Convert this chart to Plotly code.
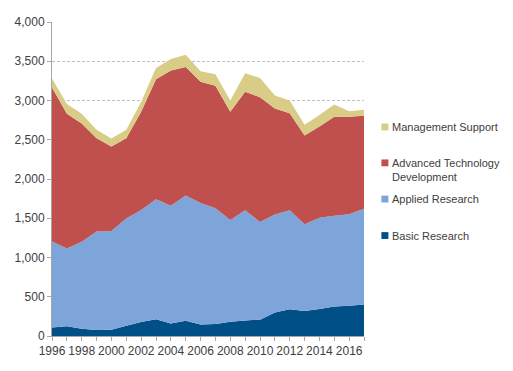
import plotly.graph_objects as go

years = list(range(1996, 2018))
basic = [108, 124, 91, 75, 79, 129, 178, 212, 158, 195, 145, 153, 183, 199, 208, 299, 340, 320, 345, 377, 386, 402]
applied = [1096, 990, 1109, 1255, 1257, 1367, 1426, 1531, 1502, 1594, 1548, 1474, 1295, 1403, 1245, 1249, 1262, 1103, 1161, 1154, 1166, 1220]
advanced = [1963, 1717, 1507, 1190, 1077, 1024, 1252, 1528, 1723, 1639, 1545, 1561, 1378, 1511, 1589, 1350, 1234, 1130, 1163, 1263, 1242, 1184]
management = [112, 124, 124, 108, 103, 108, 124, 144, 145, 154, 136, 145, 145, 233, 245, 165, 165, 137, 146, 154, 70, 75]

series_names = ["Basic Research", "Applied Research", "Advanced Technology<br>Development", "Management Support"]
series_values = [basic, applied, advanced, management]
colors = ["#004F87", "#7DA5D9", "#C0504D", "#D9CC86"]

fig = go.Figure()
for name, vals, col in zip(series_names, series_values, colors):
    fig.add_trace(go.Scatter(
        x=years, y=vals, name=name, mode="none", stackgroup="one",
        fillcolor=col, line=dict(width=0), showlegend=False,
        hoverinfo="x+y+name",
    ))

# page offset from default body margin
OFF = 8
W, H = 513 - OFF, 371 - OFF
# plot area in page pixels
L, R, T, B = 51.5, 363.6, 15, 336

def px_to_paper_x(px):
    return (px - L) / (R - L)

def px_to_paper_y(py):
    return (B - py) / (B - T)

font_family = "Liberation Sans, Arial, sans-serif"
text_color = "#404040"

legend_items = [
    ("Management Support", colors[3], 122.3, 122.3),
    ("Advanced Technology<br>Development", colors[2], 159.0, 166.5),
    ("Applied Research", colors[1], 196.0, 196.0),
    ("Basic Research", colors[0], 233.3, 233.3),
]
shapes = []
annotations = []
for label, col, sq_y, txt_y in legend_items:
    shapes.append(dict(
        type="rect", xref="paper", yref="paper",
        x0=px_to_paper_x(381), x1=px_to_paper_x(388),
        y0=px_to_paper_y(sq_y + 3.5), y1=px_to_paper_y(sq_y - 3.5),
        fillcolor=col, line=dict(width=0),
    ))
    annotations.append(dict(
        text=label, xref="paper", yref="paper",
        x=px_to_paper_x(390), y=px_to_paper_y(txt_y),
        xanchor="left", yanchor="middle", align="left", showarrow=False,
        font=dict(family=font_family, size=11, color=text_color),
    ))

fig.update_layout(
    width=W, height=H,
    margin=dict(l=L - OFF, r=W - (R - OFF), t=T - OFF, b=H - (B - OFF), pad=0),
    paper_bgcolor="white", plot_bgcolor="white",
    font=dict(family=font_family, size=12, color=text_color),
    shapes=shapes, annotations=annotations,
    showlegend=False,
    xaxis=dict(
        range=[1996, 2017], tickmode="linear", tick0=1996, dtick=2,
        showgrid=False, zeroline=False,
        showline=True, linecolor="#A6A6A6", linewidth=1,
        ticks="outside", ticklen=4, tickcolor="#A6A6A6",
        minor=dict(dtick=1, ticks="outside", ticklen=4, tickcolor="#A6A6A6", showgrid=False),
        tickfont=dict(size=12, color=text_color),
    ),
    yaxis=dict(
        range=[0, 4000], tickmode="linear", tick0=0, dtick=500,
        tickformat=",", showgrid=True, gridcolor="#BFBFBF", griddash="3px,2px", gridwidth=1,
        zeroline=False, showline=True, linecolor="#A6A6A6", linewidth=1,
        ticks="outside", ticklen=4, tickcolor="#A6A6A6",
        tickfont=dict(size=12, color=text_color),
    ),
)

fig.write_html("out.html")
